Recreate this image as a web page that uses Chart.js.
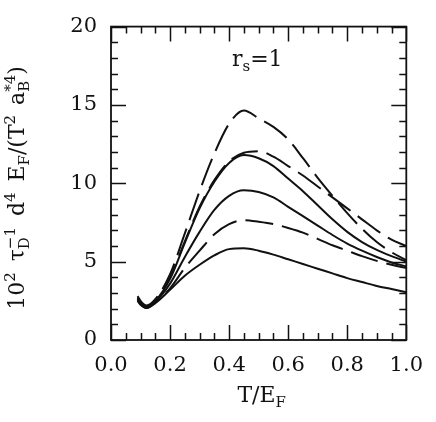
<!DOCTYPE html>
<html>
<head>
<meta charset="utf-8">
<script src="https://cdn.jsdelivr.net/npm/chart.js@4.4.1/dist/chart.umd.min.js"></script>
<style>
    html, body { margin: 0; padding: 0; background: #fff; }
    #wrap { width: 436px; height: 422px; }
</style>
</head>
<body>
<div id="wrap"><canvas id="dragChart" width="436" height="422"></canvas></div>
<script>
// T/E_F sample points shared by every curve
const tOverEf = [0.09, 0.1, 0.12, 0.15, 0.2, 0.25, 0.3, 0.35, 0.4, 0.45, 0.5, 0.55, 0.6, 0.65, 0.7, 0.75, 0.8, 0.85, 0.9, 0.95, 1.0];

// dashed curves
const dashedTop = [2.8, 2.5, 2.2, 2.6, 4.2, 6.8, 9.5, 11.9, 13.8, 14.65, 14.15, 13.6, 12.8, 11.6, 10.35, 9.2, 8.1, 7.1, 6.25, 5.6, 5.1];
const dashedMid = [2.7, 2.45, 2.15, 2.55, 4.0, 6.3, 8.5, 10.2, 11.4, 11.95, 12.05, 11.7, 11.1, 10.5, 9.8, 9.1, 8.4, 7.7, 7.0, 6.4, 6.0];
const dashedLow = [2.55, 2.3, 2.05, 2.4, 3.3, 4.6, 5.7, 6.75, 7.4, 7.65, 7.55, 7.4, 7.15, 6.85, 6.45, 6.05, 5.7, 5.35, 5.05, 4.8, 4.6];

// solid curves
const solidTop = [2.65, 2.4, 2.1, 2.5, 3.9, 6.2, 8.4, 10.1, 11.3, 11.8, 11.6, 11.1, 10.3, 9.5, 8.6, 7.7, 6.9, 6.25, 5.75, 5.35, 5.0];
const solidMid = [2.6, 2.35, 2.1, 2.45, 3.6, 5.3, 6.9, 8.3, 9.2, 9.55, 9.45, 9.1, 8.5, 7.9, 7.3, 6.7, 6.15, 5.7, 5.3, 4.95, 4.7];
const solidLow = [2.5, 2.25, 2.05, 2.35, 3.2, 4.1, 4.8, 5.4, 5.8, 5.85, 5.7, 5.45, 5.15, 4.85, 4.55, 4.25, 3.95, 3.7, 3.45, 3.25, 3.05];

// axis ticks
const xMajorTicks = [0.0, 0.2, 0.4, 0.6, 0.8, 1.0];
const xMinorStep = 0.05;
const yMajorTicks = [0, 5, 10, 15, 20];
const yMinorStep = 1;

document.addEventListener('DOMContentLoaded', () => {
    const INK = '#111';
    const SERIF = '"DejaVu Serif", "Liberation Serif", serif';
    const SCRIPT = 0.68; // size ratio of sub/superscripts

    const toPoints = ys => ys.map((y, i) => ({ x: tOverEf[i], y: y }));

    function curve(label, ys, dashed) {
        return {
            label: label,
            data: toPoints(ys),
            borderColor: INK,
            borderWidth: 2,
            borderDash: dashed ? [28, 9] : [],
            pointRadius: 0,
            fill: false,
            cubicInterpolationMode: 'monotone'
        };
    }

    function pieceWidth(ctx, p, size) {
        if (p.gap) return p.gap;
        ctx.font = (p.s ? size * SCRIPT : size) + 'px ' + SERIF;
        return ctx.measureText(p.t).width;
    }

    // total width of a run of text pieces (stacked pieces share one column)
    function richWidth(ctx, parts, size) {
        let width = 0;
        for (let i = 0; i < parts.length; i++) {
            const w = pieceWidth(ctx, parts[i], size);
            if (parts[i].stack) {
                width += Math.max(w, pieceWidth(ctx, parts[i + 1], size));
                i++;
            } else {
                width += w;
            }
        }
        return width;
    }

    function shift(p, size) {
        if (p.s === 'sup') return -size * 0.42;
        if (p.s === 'sub') return size * 0.24;
        return 0;
    }

    function drawRich(ctx, parts, size, x, y) {
        let cx = x;
        for (let i = 0; i < parts.length; i++) {
            const p = parts[i];
            const w = pieceWidth(ctx, p, size);
            if (p.gap) { cx += w; continue; }
            ctx.font = (p.s ? size * SCRIPT : size) + 'px ' + SERIF;
            ctx.fillText(p.t, cx, y + shift(p, size));
            if (p.stack) {
                const q = parts[i + 1];
                const wq = pieceWidth(ctx, q, size);
                ctx.font = (q.s ? size * SCRIPT : size) + 'px ' + SERIF;
                ctx.fillText(q.t, cx, y + shift(q, size));
                cx += Math.max(w, wq);
                i++;
            } else {
                cx += w;
            }
        }
    }

    // frame, inward ticks on all sides, axis titles and the r_s label
    const framePlugin = {
        id: 'frame',
        afterDraw(chart) {
            const ctx = chart.ctx;
            const area = chart.chartArea;
            const xs = chart.scales.x;
            const ys = chart.scales.y;
            ctx.save();
            ctx.strokeStyle = INK;
            ctx.lineWidth = 1.8;
            ctx.strokeRect(area.left, area.top, area.right - area.left, area.bottom - area.top);

            ctx.lineWidth = 1.5;
            ctx.beginPath();
            for (let v = 0; v <= 1.0001; v += xMinorStep) {
                const major = xMajorTicks.some(m => Math.abs(m - v) < 1e-6);
                const len = major ? 15 : 7;
                const px = Math.round(xs.getPixelForValue(v)) + 0.5;
                ctx.moveTo(px, area.bottom); ctx.lineTo(px, area.bottom - len);
                ctx.moveTo(px, area.top); ctx.lineTo(px, area.top + len);
            }
            for (let v = 0; v <= 20; v += yMinorStep) {
                const major = yMajorTicks.includes(v);
                const len = major ? 15 : 7;
                const py = Math.round(ys.getPixelForValue(v)) + 0.5;
                ctx.moveTo(area.left, py); ctx.lineTo(area.left + len, py);
                ctx.moveTo(area.right, py); ctx.lineTo(area.right - len, py);
            }
            ctx.stroke();

            ctx.fillStyle = INK;
            ctx.textBaseline = 'alphabetic';
            ctx.textAlign = 'left';

            // x axis title: T/E_F
            const xTitle = [{ t: 'T/E' }, { t: 'F', s: 'sub' }];
            const xw = richWidth(ctx, xTitle, 22);
            drawRich(ctx, xTitle, 22, (area.left + area.right) / 2 - xw / 2 + 3, 402);

            // r_s = 1 label
            const rs = [{ t: 'r' }, { t: 's', s: 'sub' }, { t: '=1' }];
            drawRich(ctx, rs, 22, 232, 66);

            // y axis title, rotated
            const yTitle = [
                { t: '10' }, { t: '2', s: 'sup' }, { gap: 11 }, { t: '\u03c4' },
                { t: '\u22121', s: 'sup', stack: true }, { t: 'D', s: 'sub' }, { gap: 11 },
                { t: 'd' }, { t: '4', s: 'sup' }, { gap: 11 }, { t: 'E' }, { t: 'F', s: 'sub' },
                { t: '/(T' }, { t: '2', s: 'sup' }, { gap: 10 }, { t: 'a' },
                { t: '*4', s: 'sup', stack: true }, { t: 'B', s: 'sub' }, { t: ')' }
            ];
            const yw = richWidth(ctx, yTitle, 22);
            ctx.translate(24, 188);
            ctx.rotate(-Math.PI / 2);
            drawRich(ctx, yTitle, 22, -yw / 2, 0);
            ctx.restore();
        }
    };

    const ctx = document.getElementById('dragChart').getContext('2d');
    new Chart(ctx, {
        type: 'line',
        data: {
            datasets: [
                curve('dashed 1', dashedTop, true),
                curve('dashed 2', dashedMid, true),
                curve('solid 1', solidTop, false),
                curve('solid 2', solidMid, false),
                curve('dashed 3', dashedLow, true),
                curve('solid 3', solidLow, false)
            ]
        },
        options: {
            responsive: false,
            animation: false,
            layout: { padding: { top: 14, right: 19, left: 0, bottom: 0 } },
            scales: {
                x: {
                    type: 'linear',
                    min: 0,
                    max: 1.0,
                    afterFit: s => { s.height = 82; },
                    afterBuildTicks: s => { s.ticks = xMajorTicks.map(v => ({ value: v })); },
                    grid: { display: false, drawTicks: false },
                    border: { display: false },
                    ticks: {
                        padding: 13,
                        color: INK,
                        font: { family: SERIF, size: 21 },
                        maxRotation: 0,
                        callback: v => v.toFixed(1)
                    }
                },
                y: {
                    type: 'linear',
                    min: 0,
                    max: 20,
                    afterFit: s => { s.width = 111; },
                    afterBuildTicks: s => { s.ticks = yMajorTicks.map(v => ({ value: v })); },
                    grid: { display: false, drawTicks: false },
                    border: { display: false },
                    ticks: {
                        padding: 14,
                        color: INK,
                        font: { family: SERIF, size: 21 }
                    }
                }
            },
            plugins: {
                legend: { display: false },
                tooltip: { enabled: false }
            }
        },
        plugins: [framePlugin]
    });
});
</script>
</body>
</html>
